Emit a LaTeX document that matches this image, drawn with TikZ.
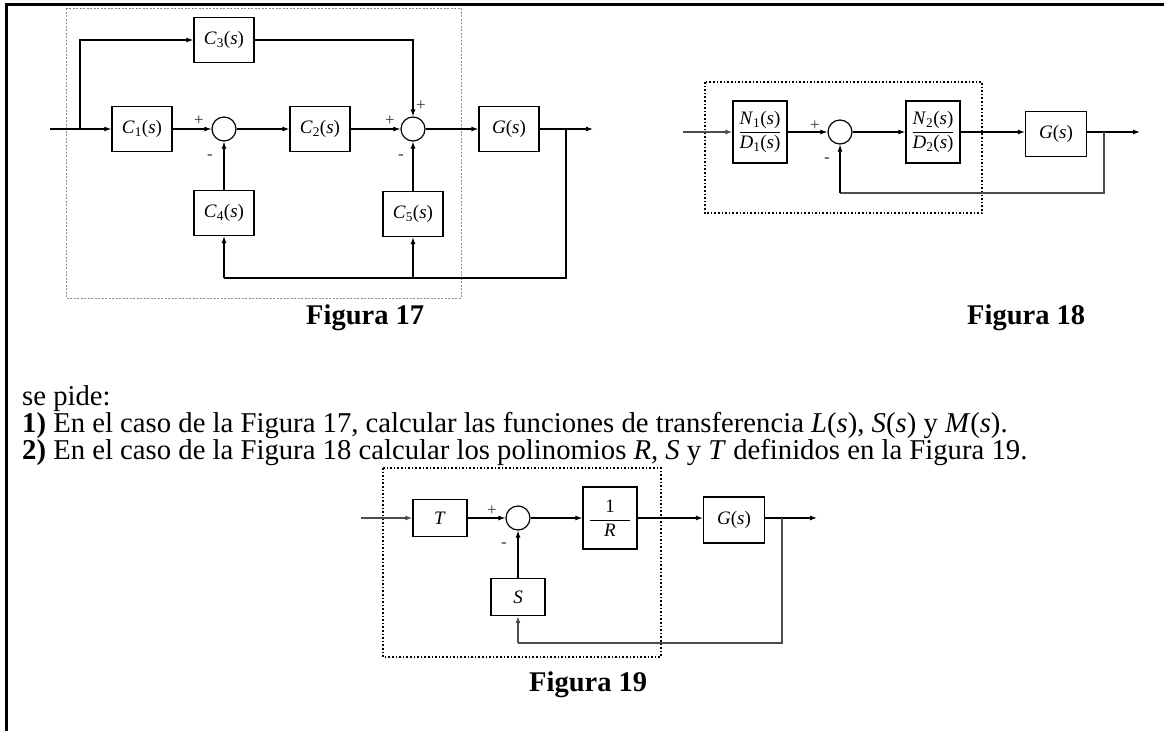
\documentclass[tikz,border=0pt]{standalone}
\usepackage{fontspec}
\setmainfont{Liberation Serif}
\usetikzlibrary{arrows.meta}
\begin{document}
\begin{tikzpicture}[x=1pt,y=-1pt,
  blk/.style={draw, line width=1.3pt, minimum width=60pt, minimum height=45pt, inner sep=0pt, font=\fontsize{19}{22}\selectfont},
  sumc/.style={draw, circle, line width=1.2pt, minimum size=24pt, inner sep=0pt},
  sig/.style={line width=1.1pt},
  gsig/.style={line width=1.4pt, draw=black!70},
  arr/.style={-{Latex[length=7pt,width=5pt]}},
  sgn/.style={font=\fontsize{17}{17}\selectfont, inner sep=0pt, text=black!80},
  figcap/.style={font=\fontsize{28.5}{30}\selectfont\bfseries, anchor=base west, inner sep=0pt},
  body/.style={font=\fontsize{28.7}{30}\selectfont, anchor=base west, inner sep=0pt},
  dotbox/.style={line width=1.1pt, dash pattern=on 1.6pt off 2pt},
]
\useasboundingbox (0,0) rectangle (1164,731);
% frame
\draw[line width=3pt] (6,731) -- (6,4) -- (1164,4);

% ---------------- Figura 17 ----------------
\draw[draw=black!45, line width=1pt, dash pattern=on 2pt off 1.5pt] (66,8) rectangle (461,298);
\node[blk] (c3) at (224,40) {\textit{C}\textsubscript{3}(\textit{s})};
\node[blk] (c1) at (142,129) {\textit{C}\textsubscript{1}(\textit{s})};
\node[sumc] (s1) at (224,129) {};
\node[blk] (c2) at (320,129) {\textit{C}\textsubscript{2}(\textit{s})};
\node[sumc] (s2) at (413,129) {};
\node[blk] (g1) at (509,129) {\textit{G}(\textit{s})};
\node[blk] (c4) at (224,213) {\textit{C}\textsubscript{4}(\textit{s})};
\node[blk] (c5) at (413,214) {\textit{C}\textsubscript{5}(\textit{s})};
\coordinate (in1) at (50,129);
\coordinate (b1) at (80,129);
\coordinate (out1) at (593,129);
\coordinate (fb1) at (566,129);
\coordinate (bot1) at (566,278);
\coordinate (fbm1) at (413,278);
\coordinate (fbl1) at (224,278);
\draw[sig] (in1) -- (b1);
\draw[sig,arr] (b1) -- (c1);
\draw[sig,arr] (b1) |- (c3);
\draw[sig,arr] (c3) -| (s2);
\draw[sig,arr] (c1) -- (s1);
\draw[sig,arr] (s1) -- (c2);
\draw[sig,arr] (c2) -- (s2);
\draw[sig,arr] (s2) -- (g1);
\draw[sig,arr] (g1) -- (out1);
\draw[sig] (fb1) -- (bot1) -- (fbl1);
\draw[sig,arr] (fbl1) -- (c4);
\draw[sig,arr] (fbm1) -- (c5);
\draw[sig,arr] (c4) -- (s1);
\draw[sig,arr] (c5) -- (s2);
\node[sgn] (p1) at (199,121) {+};
\node[sgn] (m1) at (210,157) {-};
\node[sgn] (p2) at (390,121) {+};
\node[sgn] (p3) at (421,106) {+};
\node[sgn] (m2) at (401,157) {-};
\node[figcap] (f17) at (306,324) {Figura 17};

% ---------------- Figura 18 ----------------
\draw[dotbox] (705,82) rectangle (982,213);
\coordinate (in2) at (683,132);
\node[blk, minimum width=54pt, minimum height=62pt] (nd1) at (760,132)
  {$\displaystyle\frac{\hbox{\textit{N}\textsubscript{1}(\textit{s})}}{\hbox{\textit{D}\textsubscript{1}(\textit{s})}}$};
\node[sumc] (s3) at (840,132) {};
\node[blk, minimum width=54pt, minimum height=62pt] (nd2) at (933,132)
  {$\displaystyle\frac{\hbox{\textit{N}\textsubscript{2}(\textit{s})}}{\hbox{\textit{D}\textsubscript{2}(\textit{s})}}$};
\node[blk, minimum width=61pt] (g2) at (1056,134) {\textit{G}(\textit{s})};
\coordinate (out2) at (1140,132);
\coordinate (fb2) at (1104,132);
\coordinate (bot2) at (1104,193);
\coordinate (fbl2) at (840,193);
\draw[gsig,arr] (in2) -- (nd1);
\draw[sig,arr] (nd1) -- (s3);
\draw[sig,arr] (s3) -- (nd2);
\draw[sig,arr] (nd2) -- (g2.west |- nd2);
\draw[sig,arr] (g2.east |- fb2) -- (out2);
\draw[gsig] (fb2) -- (bot2) -- (fbl2);
\draw[sig,arr] (fbl2) -- (s3);
\node[sgn] (p4) at (815,126) {+};
\node[sgn] (m4) at (827,160) {-};
\node[figcap] (f18) at (967,324) {Figura 18};

% ---------------- text ----------------
\node[body] (t0) at (22,405) {se pide:};
\node[body] (t1) at (22,432) {\textbf{1)} En el caso de la Figura 17, calcular las funciones de transferencia \textit{L}(\textit{s}), \textit{S}(\textit{s}) y \textit{M}(\textit{s}).};
\node[body] (t2) at (22,459) {\textbf{2)} En el caso de la Figura 18 calcular los polinomios \textit{R}, \textit{S} y \textit{T} definidos en la Figura 19.};

% ---------------- Figura 19 ----------------
\draw[dotbox] (383,468) rectangle (661,657);
\coordinate (in3) at (361,518);
\node[blk, minimum width=54pt, minimum height=37pt] (tb) at (440,518) {\textit{T}};
\node[sumc] (s4) at (518,518) {};
\node[blk, minimum width=54pt, minimum height=62pt] (rb) at (610,518)
  {$\displaystyle\frac{\hbox to 40pt{\hfil 1\hfil}}{\hbox to 40pt{\hfil\textit{R}\hfil}}$};
\node[blk, minimum width=61pt, minimum height=46pt] (g3) at (734,520) {\textit{G}(\textit{s})};
\node[blk, minimum width=54pt, minimum height=37pt] (sb) at (518,597) {\textit{S}};
\coordinate (out3) at (817,518);
\coordinate (fb3) at (782,518);
\coordinate (bot3) at (782,643);
\coordinate (fbl3) at (518,643);
\draw[gsig,arr] (in3) -- (tb);
\draw[sig,arr] (tb) -- (s4);
\draw[sig,arr] (s4) -- (rb);
\draw[sig,arr] (rb) -- (g3.west |- rb);
\draw[sig,arr] (g3.east |- fb3) -- (out3);
\draw[gsig] (fb3) -- (bot3) -- (fbl3);
\draw[gsig,arr] (fbl3) -- (sb);
\draw[sig,arr] (sb) -- (s4);
\node[sgn] (p5) at (492,511) {+};
\node[sgn] (m5) at (504,545) {-};
\node[figcap] (f19) at (529,691) {Figura 19};
\end{tikzpicture}
\end{document}
